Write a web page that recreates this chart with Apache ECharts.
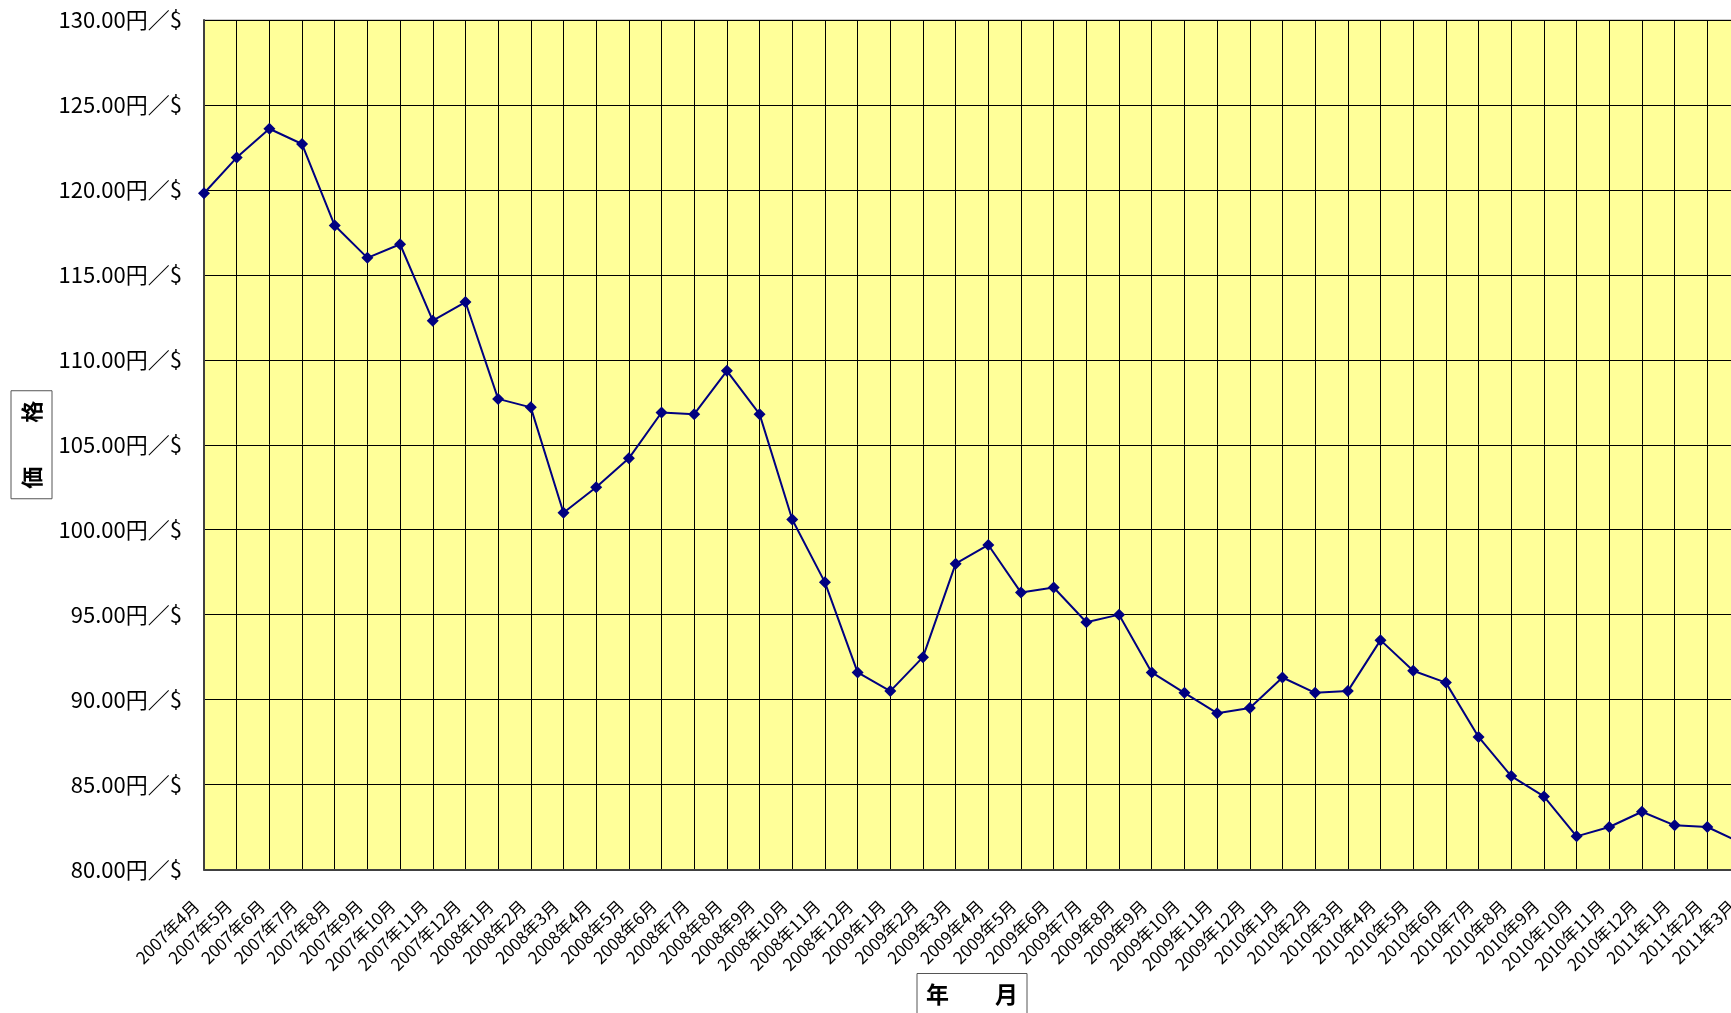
<!DOCTYPE html>
<html>
<head>
<meta charset="utf-8">
<script src="https://cdn.jsdelivr.net/npm/echarts@6/dist/echarts.min.js"></script>
<style>
  html, body { margin: 0; padding: 0; background: #fff; }
  #chart { width: 1731px; height: 1013px; }
</style>
</head>
<body>
<div id="chart"></div>
<script>
const months = [
  '2007年4月', '2007年5月', '2007年6月', '2007年7月', '2007年8月', '2007年9月', '2007年10月', '2007年11月', '2007年12月',
  '2008年1月', '2008年2月', '2008年3月', '2008年4月', '2008年5月', '2008年6月', '2008年7月', '2008年8月', '2008年9月', '2008年10月', '2008年11月', '2008年12月',
  '2009年1月', '2009年2月', '2009年3月', '2009年4月', '2009年5月', '2009年6月', '2009年7月', '2009年8月', '2009年9月', '2009年10月', '2009年11月', '2009年12月',
  '2010年1月', '2010年2月', '2010年3月', '2010年4月', '2010年5月', '2010年6月', '2010年7月', '2010年8月', '2010年9月', '2010年10月', '2010年11月', '2010年12月',
  '2011年1月', '2011年2月', '2011年3月'
]

const rates = [
  119.8, 121.9, 123.6, 122.7, 117.9, 116.0, 116.8, 112.3, 113.4,
  107.7, 107.2, 101.0, 102.5, 104.2, 106.9, 106.8, 109.35, 106.8, 100.6, 96.9, 91.6,
  90.5, 92.5, 98.0, 99.1, 96.3, 96.6, 94.55, 95.0, 91.6, 90.4, 89.2, 89.5,
  91.3, 90.4, 90.5, 93.5, 91.7, 91.0, 87.8, 85.5, 84.3, 81.95, 82.5, 83.4,
  82.6, 82.5, 81.6
]

const yMin = 80
const yMax = 130
const yStep = 5

const font = '"Noto Sans CJK JP", "Noto Sans", sans-serif'

const myChart = echarts.init(document.getElementById('chart'))

const option = {
  animation: false,
  backgroundColor: '#fff',
  textStyle: { fontFamily: font },
  grid: {
    left: 204,
    top: 20,
    right: -9,
    bottom: 143.5,
    outerBoundsMode: 'none',
    containLabel: false,
    show: true,
    backgroundColor: '#FFFF99',
    borderColor: '#999',
    borderWidth: 1
  },
  xAxis: {
    type: 'category',
    data: months,
    boundaryGap: false,
    name: '年　　月',
    nameLocation: 'middle',
    nameGap: 104,
    nameMoveOverlap: false,
    nameTextStyle: {
      fontFamily: font,
      fontSize: 23,
      fontWeight: 'bold',
      color: '#000',
      lineHeight: 26,
      borderColor: '#555',
      borderWidth: 1,
      padding: [8, 9, 8, 9]
    },
    axisLine: { lineStyle: { color: '#404040', width: 2 } },
    axisTick: { show: false },
    axisLabel: {
      interval: 0,
      rotate: 45,
      margin: 26,
      fontSize: 17,
      color: '#000',
      fontFamily: font,
      // trailing blank slot pushes each label a little down-left, like the original
      formatter: v => v + '{gap| }',
      rich: {
        gap: { width: 11, fontSize: 17 }
      }
    },
    splitLine: {
      show: true,
      interval: 0,
      lineStyle: { color: '#000', width: 1 }
    }
  },
  yAxis: {
    type: 'value',
    min: yMin,
    max: yMax,
    interval: yStep,
    name: '価　　格',
    nameLocation: 'middle',
    nameRotate: 90,
    nameGap: 152,
    nameMoveOverlap: false,
    nameTextStyle: {
      fontFamily: font,
      fontSize: 22,
      fontWeight: 'bold',
      color: '#000',
      lineHeight: 23,
      borderColor: '#555',
      borderWidth: 1,
      padding: [9, 10, 9, 10]
    },
    axisLine: { show: true, lineStyle: { color: '#404040', width: 2 } },
    axisTick: { show: false },
    axisLabel: {
      margin: 22,
      fontSize: 22,
      color: '#000',
      fontFamily: font,
      formatter: v => v.toFixed(2) + '円／$'
    },
    splitLine: { lineStyle: { color: '#000', width: 1 } }
  },
  series: [
    {
      type: 'line',
      data: rates,
      symbol: 'diamond',
      symbolSize: 12,
      showAllSymbol: true,
      itemStyle: { color: '#000080' },
      lineStyle: { color: '#000080', width: 2 }
    }
  ]
}

myChart.setOption(option)
</script>
</body>
</html>
